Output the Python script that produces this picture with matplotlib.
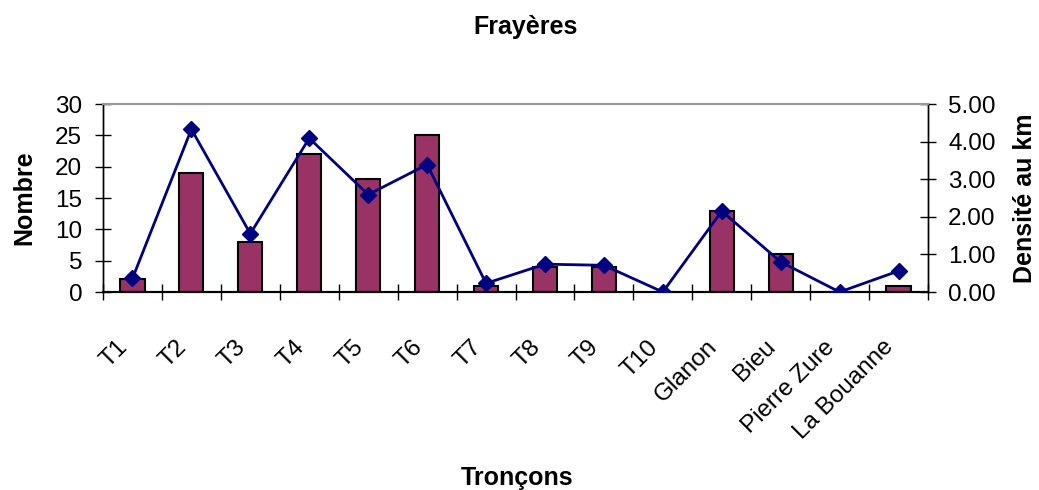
import matplotlib
matplotlib.use("Agg")
import matplotlib.pyplot as plt
import numpy as np

categories = ["T1", "T2", "T3", "T4", "T5", "T6", "T7", "T8", "T9", "T10",
              "Glanon", "Bieu", "Pierre Zure", "La Bouanne"]
nombre = [2, 19, 8, 22, 18, 25, 1, 4, 4, 0, 13, 6, 0, 1]
densite = [0.36, 4.33, 1.55, 4.09, 2.59, 3.39, 0.23, 0.74, 0.71, 0.0, 2.15, 0.80, 0.0, 0.56]
left_ticks = [0, 5, 10, 15, 20, 25, 30]
right_ticks = [0, 1, 2, 3, 4, 5]

plt.rcParams['font.family'] = ['Liberation Sans', 'DejaVu Sans']

fig = plt.figure(figsize=(10.39, 4.90), dpi=100)
ax = fig.add_axes([103/1039, 1-292/490, (928-103)/1039, (292-104)/490])
ax2 = ax.twinx()

x = np.arange(len(categories))
ax.bar(x, nombre, width=0.41, color="#993366", edgecolor="black", linewidth=1.5, zorder=2)
ax2.plot(x, densite, color="#000080", linewidth=2, marker="D", markersize=8.5, zorder=3)

ax.set_xlim(-0.5, len(categories) - 0.5)
ax.set_ylim(0, 30)
ax2.set_ylim(0, 5)
ax.set_yticks(left_ticks)
ax.set_yticklabels([str(t) for t in left_ticks], fontsize=17.5)
ax2.set_yticks(right_ticks)
ax2.set_yticklabels([f"{t:.2f}" for t in right_ticks], fontsize=17.5)

ax.set_xticks(np.arange(len(categories) + 1) - 0.5)
ax.set_xticklabels([])
for i, cat in enumerate(categories):
    ax.annotate(cat, xy=(x[i], 0), xycoords=("data", "axes fraction"),
                xytext=(-16, -44), textcoords="offset pixels",
                rotation=45, ha="right", va="top", rotation_mode="anchor",
                fontsize=17.5, annotation_clip=False)
ax.tick_params(axis="x", which="major", direction="inout", length=11, width=1)
ax.tick_params(axis="y", direction="inout", length=11, width=1, pad=9.5)
ax2.tick_params(axis="y", direction="inout", length=11, width=1, pad=9)

for a in (ax, ax2):
    a.spines["top"].set_color("#999999")
    a.spines["top"].set_linewidth(1.5)
    a.spines["left"].set_linewidth(1)
    a.spines["right"].set_linewidth(1)
    a.spines["bottom"].set_linewidth(1.5)

fig.text(526/1039, 1-27/490, "Frayères", ha="center", va="center", fontsize=18, fontweight="bold")
fig.text(517/1039, 1-478/490, "Tronçons", ha="center", va="center", fontsize=18, fontweight="bold")
fig.text(24/1039, 1-198/490, "Nombre", ha="center", va="center", rotation=90, fontsize=18, fontweight="bold")
fig.text(1025/1039, 1-198/490, "Densité au km", ha="center", va="center", rotation=90, fontsize=18, fontweight="bold")

fig.savefig("out.png", dpi=100)
